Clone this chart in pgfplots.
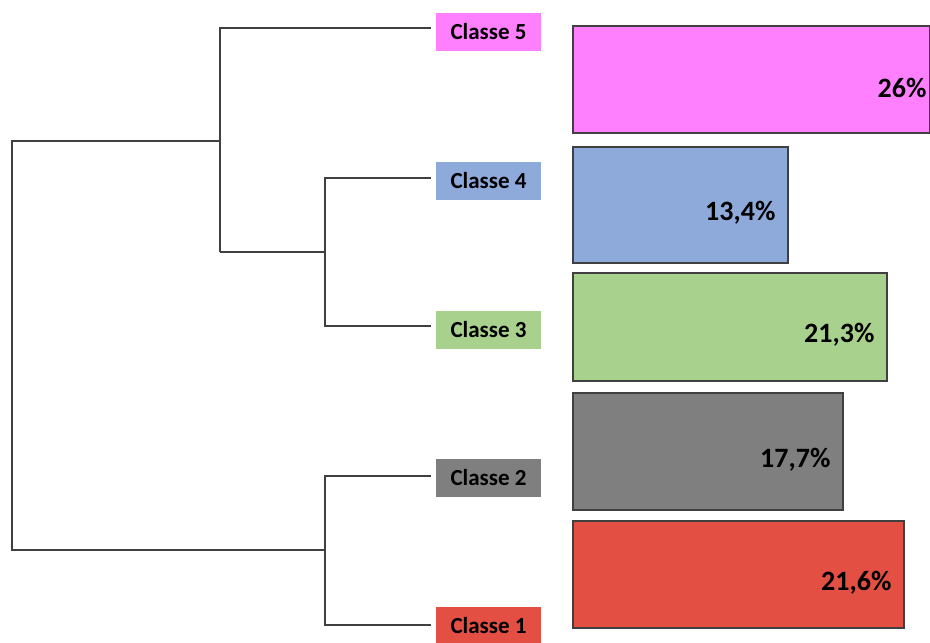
\documentclass[border=0pt]{standalone}
\usepackage{fontspec}
\setmainfont{Carlito}
\usepackage{pgfplots}
\pgfplotsset{compat=1.18}
\definecolor{cpink}{HTML}{FF80FF}
\definecolor{cblue}{HTML}{8EAADB}
\definecolor{cgreen}{HTML}{A9D18E}
\definecolor{cgray}{HTML}{7F7F7F}
\definecolor{cred}{HTML}{E34F43}
\definecolor{cline}{HTML}{404040}
\begin{document}
\begin{tikzpicture}
% dendrogram axis (pixel coordinates, y downwards)
\begin{axis}[
  x=0.5pt, y=0.5pt, y dir=reverse,
  xmin=0, xmax=930, ymin=0, ymax=642,
  hide axis, clip=false,
]
\addplot[cline, line width=1pt] coordinates {(431,178) (325,178) (325,326) (431,326)};
\addplot[cline, line width=1pt] coordinates {(325,252) (220,252)};
\addplot[cline, line width=1pt] coordinates {(431,28) (220,28) (220,252)};
\addplot[cline, line width=1pt] coordinates {(431,476) (325,476) (325,625) (431,625)};
\addplot[cline, line width=1pt] coordinates {(220,141) (12,141) (12,550) (325,550)};
\tikzset{cls/.style={font=\fontsize{11.5}{13}\selectfont\bfseries, minimum width=52.5pt, minimum height=19pt, inner sep=0pt, text=black}}
\node[cls, fill=cpink]  at (axis cs:488.5,32)  {Classe 5};
\node[cls, fill=cblue]  at (axis cs:488.5,181) {Classe 4};
\node[cls, fill=cgreen] at (axis cs:488.5,330) {Classe 3};
\node[cls, fill=cgray]  at (axis cs:488.5,478) {Classe 2};
\node[cls, fill=cred]   at (axis cs:488.5,626) {Classe 1};
\end{axis}
% bar axis: bars start at pixel 573
\begin{axis}[
  x=0.5pt, y=0.5pt, y dir=reverse,
  xmin=-573, xmax=357, ymin=0, ymax=642,
  hide axis, xbar, bar shift=0pt,
  nodes near coords, point meta=explicit symbolic,
  every node near coord/.append style={anchor=east, inner sep=0pt, xshift=-6pt, yshift=-4pt,
    font=\fontsize{14}{16}\selectfont\bfseries, text=black},
]
\addplot[fill=cpink, draw=cline, line width=0.6pt, bar width=53.5pt,
  every node near coord/.append style={xshift=4.5pt}] coordinates {(357,79.5) [26\%]};
\addplot[fill=cblue, draw=cline, line width=0.6pt, bar width=58pt] coordinates {(215,205) [{13,4\%}]};
\addplot[fill=cgreen, draw=cline, line width=0.6pt, bar width=54pt] coordinates {(314,327) [{21,3\%}]};
\addplot[fill=cgray, draw=cline, line width=0.6pt, bar width=58.5pt] coordinates {(270,451.5) [{17,7\%}]};
\addplot[fill=cred, draw=cline, line width=0.6pt, bar width=53.5pt] coordinates {(331,574.5) [{21,6\%}]};
\end{axis}
\pgfresetboundingbox
\path (0,0) rectangle (465pt,321pt);
\end{tikzpicture}
\end{document}
